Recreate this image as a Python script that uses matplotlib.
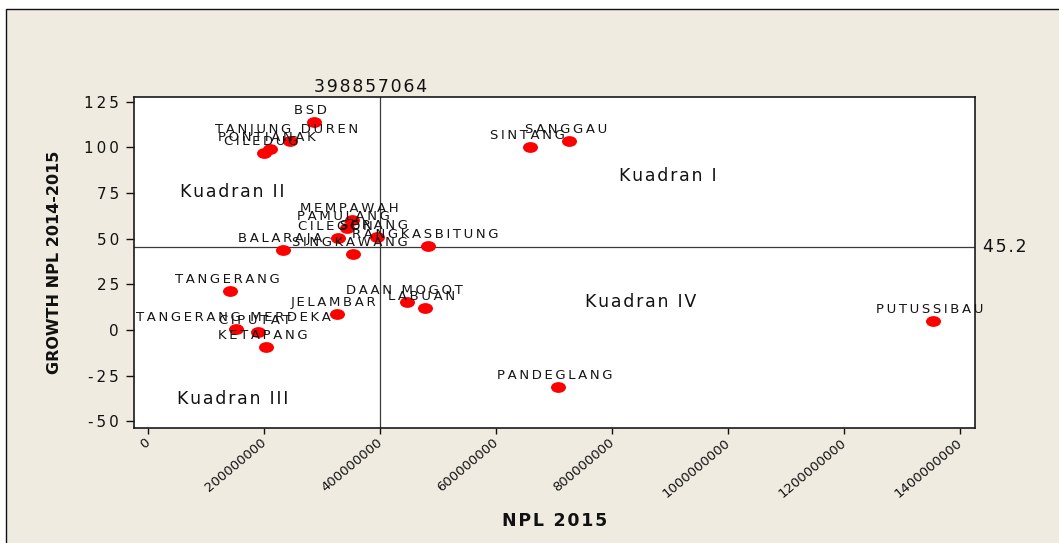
import matplotlib
matplotlib.use("Agg")
import matplotlib.pyplot as plt
from matplotlib.path import Path
from matplotlib.transforms import Affine2D
from matplotlib.patches import Rectangle

# ---------------- data ----------------
branches = ["BSD", "TANJUNG DUREN", "PONTIANAK", "CILEDUG", "SINTANG", "SANGGAU",
            "MEMPAWAH", "PAMULANG", "CILEGON", "SERANG", "RANGKASBITUNG",
            "SINGKAWANG", "BALARAJA", "TANGERANG", "TANGERANG MERDEKA", "CIPUTAT",
            "KETAPANG", "JELAMBAR", "DAAN MOGOT", "LABUAN", "PANDEGLANG", "PUTUSSIBAU"]
npl_2015 = [285e6, 244e6, 209e6, 199e6, 658e6, 725e6,
            351e6, 342e6, 327e6, 394e6, 482e6,
            352e6, 232e6, 141e6, 151e6, 189e6,
            202e6, 325e6, 446e6, 477e6, 706e6, 1353e6]
growth_npl = [113.8, 103.4, 99.0, 96.8, 100.1, 103.4,
              60.2, 55.8, 50.3, 50.9, 46.0,
              41.6, 43.8, 21.3, 0.5, -1.1,
              -9.3, 8.8, 15.3, 12.0, -31.2, 4.9]

x_ref = 398857064
y_ref = 45.2

quadrant_names = ["Kuadran I", "Kuadran II", "Kuadran III", "Kuadran IV"]
quadrant_x = [896e6, 144e6, 146e6, 848e6]
quadrant_y = [84.2, 75.5, -37.7, 15.3]

xticks = [0, 200e6, 400e6, 600e6, 800e6, 1000e6, 1200e6, 1400e6]
xtick_labels = ["0", "200000000", "400000000", "600000000", "800000000",
                "1000000000", "1200000000", "1400000000"]
yticks = [-50, -25, 0, 25, 50, 75, 100, 125]
ytick_labels = ["-50", "-25", "0", "25", "50", "75", "100", "125"]

THIN = "\u2009"
HAIR = "\u200a"


def spaced(s, sep=THIN):
    return sep.join(s)


# ---------------- figure ----------------
W, H = 1059, 543
fig = plt.figure(figsize=(W / 100, H / 100), dpi=100, facecolor="white")
fig.add_artist(Rectangle((6 / W, -0.1), 1.2, (H - 9) / H + 0.1,
                         transform=fig.transFigure, facecolor="#efebe0",
                         edgecolor="#111111", linewidth=1.0, zorder=-10))

left, right, top, bottom = 134, 975, 97, 428
ax = fig.add_axes([left / W, 1 - bottom / H, (right - left) / W, (bottom - top) / H])
ax.set_facecolor("white")
for sp in ax.spines.values():
    sp.set_linewidth(1.2)
    sp.set_color("#1a1a1a")

ax.set_xlim(-25e6, 1425.6e6)
ax.set_ylim(-53.6, 127.5)

ax.axvline(x_ref, color="#3a3a3a", lw=0.9, zorder=1)
ax.axhline(y_ref, color="#3a3a3a", lw=0.9, zorder=1)

ellipse = Path.unit_circle().transformed(Affine2D().scale(1.0, 0.72))
ax.scatter(npl_2015, growth_npl, s=10.8 ** 2, marker=ellipse, c="#ff0000",
           linewidths=0, zorder=3)

for name, xv, yv in zip(branches, npl_2015, growth_npl):
    ax.annotate(spaced(name), (xv, yv), xytext=(-3, 8), textcoords="offset pixels",
                ha="center", va="baseline", fontsize=9.5, color="#151515",
                zorder=4, annotation_clip=False)

for name, xv, yv in zip(quadrant_names, quadrant_x, quadrant_y):
    ax.text(xv, yv, spaced(name, HAIR), ha="center", va="center",
            fontsize=12.5, color="#111111", zorder=4)

ax.annotate(spaced(str(x_ref), HAIR), xy=(x_ref, 1.0),
            xycoords=("data", "axes fraction"), xytext=(-9, 5),
            textcoords="offset pixels", ha="center", va="baseline",
            fontsize=12.5, color="#111111", annotation_clip=False)
ax.annotate(spaced(str(y_ref), HAIR), xy=(1.0, y_ref),
            xycoords=("axes fraction", "data"), xytext=(8, 0),
            textcoords="offset pixels", ha="left", va="center",
            fontsize=12.5, color="#111111", annotation_clip=False)

ax.set_yticks(yticks, labels=[spaced(t) for t in ytick_labels])
ax.set_xticks(xticks, labels=xtick_labels)
ax.tick_params(axis="y", length=5.8, width=1.0, pad=5.0, labelsize=11,
               colors="#111111")
ax.tick_params(axis="x", length=4.3, width=1.0, pad=5.0, labelsize=9.5,
               colors="#111111")
for lab in ax.get_xticklabels():
    lab.set_rotation(40)
    lab.set_ha("right")
    lab.set_va("center")
    lab.set_rotation_mode("anchor")

ax.set_xlabel(spaced("NPL 2015", HAIR), fontsize=12.5, fontweight="bold", color="#111111")
ax.set_ylabel("GROWTH NPL 2014-2015", fontsize=11.5, fontweight="bold", color="#111111")
ax.xaxis.set_label_coords(0.5, (bottom - 521) / (bottom - top))
ax.yaxis.set_label_coords((55 - left) / (right - left), 0.5)
ax.xaxis.label.set_va("center")
ax.yaxis.label.set_va("center")

fig.savefig("out.png", dpi=100, facecolor=fig.get_facecolor())
